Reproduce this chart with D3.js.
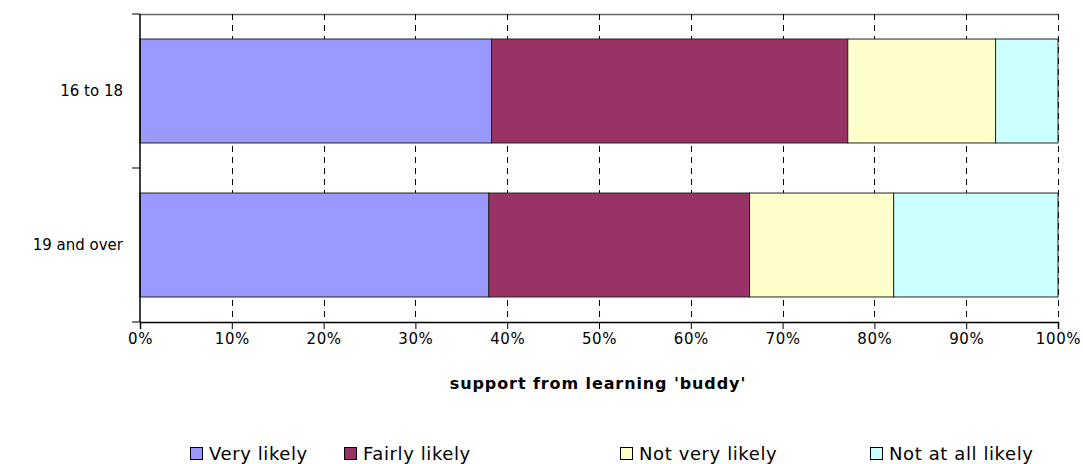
<!DOCTYPE html>
<html>
<head>
<meta charset="utf-8">
<script src="https://cdn.jsdelivr.net/npm/d3@7"></script>
<style>
  html, body { margin: 0; padding: 0; background: #fff; }
  svg text { font-family: "DejaVu Sans", Verdana, sans-serif; fill: #000; }
</style>
</head>
<body>
<svg id="chart" width="1083" height="464"></svg>
<script>
// Age groups, top to bottom
const categories = ["16 to 18", "19 and over"];
// Response shares (%) per age group
const seriesNames = ["Very likely", "Fairly likely", "Not very likely", "Not at all likely"];
const veryLikely     = [38.3, 38.0];
const fairlyLikely   = [38.8, 28.4];
const notVeryLikely  = [16.1, 15.7];
const notAtAllLikely = [6.8, 17.9];
const colors = ["#9999FF", "#993366", "#FFFFCC", "#CCFFFF"];
const xTicks = [0, 10, 20, 30, 40, 50, 60, 70, 80, 90, 100];
const axisTitle = "support from learning 'buddy'";

const rows = categories.map((c, i) => ({
  cat: c,
  "Very likely": veryLikely[i],
  "Fairly likely": fairlyLikely[i],
  "Not very likely": notVeryLikely[i],
  "Not at all likely": notAtAllLikely[i]
}));
const stacked = d3.stack().keys(seriesNames)(rows);

const svg = d3.select("#chart");
const plotL = 140, plotR = 1058, plotT = 14, plotB = 322;

const x = d3.scaleLinear().domain([0, 100]).range([plotL, plotR]);
const y = d3.scaleBand().domain(categories).range([plotT, plotB]).paddingInner(0.325).paddingOuter(0.1625);

// Top border of the plot area
svg.append("line")
  .attr("x1", plotL).attr("x2", plotR).attr("y1", plotT + 0.5).attr("y2", plotT + 0.5)
  .attr("stroke", "#666").attr("stroke-width", 1.5);

// Dashed vertical gridlines
svg.append("g").selectAll("line").data(xTicks.slice(1)).join("line")
  .attr("x1", d => Math.round(x(d)) + 0.5).attr("x2", d => Math.round(x(d)) + 0.5)
  .attr("y1", plotT).attr("y2", plotB)
  .attr("stroke", "#000").attr("stroke-width", 1)
  .attr("stroke-dasharray", "6,5");

// Stacked bars
svg.append("g").selectAll("g").data(stacked).join("g")
  .attr("fill", (d, i) => colors[i])
  .selectAll("rect").data(d => d).join("rect")
  .attr("x", d => x(d[0]))
  .attr("width", d => x(d[1]) - x(d[0]))
  .attr("y", d => y(d.data.cat))
  .attr("height", y.bandwidth())
  .attr("stroke", "#222").attr("stroke-width", 1);

// Bottom axis
const xAxis = d3.axisBottom(x).tickValues(xTicks).tickFormat(d => d + "%").tickSize(7).tickPadding(4);
const gx = svg.append("g").attr("transform", `translate(0,${plotB})`).call(xAxis);
gx.select(".domain").attr("stroke", "#000").attr("stroke-width", 1.5);
gx.selectAll(".tick line").attr("stroke", "#000");
gx.selectAll(".tick text")
  .attr("font-size", 15)
  .attr("letter-spacing", "0.6")
  .attr("font-family", "DejaVu Sans, Verdana, sans-serif");

// Left axis with ticks at band boundaries
svg.append("line")
  .attr("x1", plotL).attr("x2", plotL).attr("y1", plotT).attr("y2", plotB)
  .attr("stroke", "#000").attr("stroke-width", 1.5);
const bandEdges = [plotT, (plotT + plotB) / 2, plotB];
svg.append("g").selectAll("line").data(bandEdges).join("line")
  .attr("x1", plotL - 8).attr("x2", plotL).attr("y1", d => d).attr("y2", d => d)
  .attr("stroke", "#000");

// Category labels
svg.append("g").selectAll("text").data(categories).join("text")
  .attr("x", 123)
  .attr("y", d => y(d) + y.bandwidth() / 2)
  .attr("dy", "0.35em")
  .attr("text-anchor", "end")
  .attr("font-size", 15)
  .text(d => d);

// Axis title
svg.append("text")
  .attr("x", (plotL + plotR) / 2 - 1).attr("y", 389)
  .attr("text-anchor", "middle")
  .attr("font-size", 16).attr("font-weight", "bold")
  .attr("letter-spacing", "0.9")
  .text(axisTitle);

// Legend
const legendX = [190, 344, 620, 870];
const lg = svg.append("g").selectAll("g").data(seriesNames).join("g")
  .attr("transform", (d, i) => `translate(${legendX[i]},447)`);
lg.append("rect").attr("x", 0.5).attr("y", 0.5).attr("width", 12).attr("height", 12)
  .attr("fill", (d, i) => colors[i]).attr("stroke", "#000");
lg.append("text").attr("x", 19).attr("y", 12.5)
  .attr("font-size", 18).attr("letter-spacing", "0.6").text(d => d);
</script>
</body>
</html>
